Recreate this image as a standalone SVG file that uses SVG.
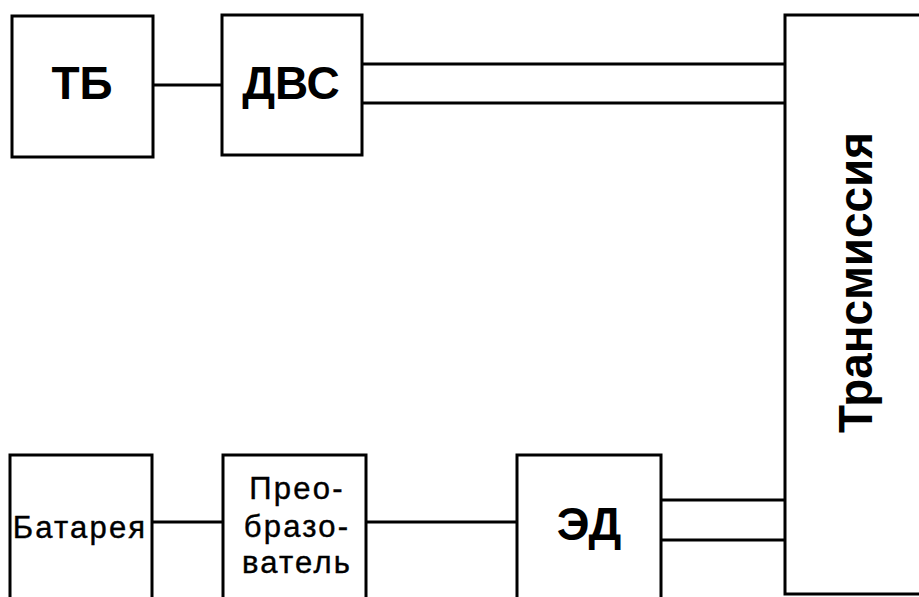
<svg xmlns="http://www.w3.org/2000/svg" width="919" height="597" viewBox="0 0 919 597">
  <style>
    .box { fill: #ffffff; stroke: #000000; stroke-width: 3; }
    .wire { stroke: #000000; stroke-width: 3; fill: none; }
    .big { font-family: "Liberation Sans", Arial, sans-serif; font-weight: bold; font-size: 46px; fill: #000000; text-anchor: middle; }
    .small { font-family: "Liberation Sans", Arial, sans-serif; font-size: 31px; letter-spacing: 2.2px; fill: #000000; stroke: #000000; stroke-width: 0.4; text-anchor: middle; }
  </style>
  <rect width="919" height="597" fill="#ffffff"/>

  <g id="connectors">
    <line class="wire" x1="153" y1="85" x2="222" y2="85"/>
    <line class="wire" x1="362" y1="64" x2="785" y2="64"/>
    <line class="wire" x1="362" y1="103" x2="785" y2="103"/>
    <line class="wire" x1="152" y1="522" x2="223" y2="522"/>
    <line class="wire" x1="366" y1="522" x2="517" y2="522"/>
    <line class="wire" x1="661" y1="500" x2="785" y2="500"/>
    <line class="wire" x1="661" y1="540" x2="785" y2="540"/>
  </g>

  <g id="node-tb">
    <rect class="box" x="12" y="16" width="141" height="141"/>
    <text class="big" x="82" y="99">ТБ</text>
  </g>

  <g id="node-dvs">
    <rect class="box" x="222" y="15" width="140" height="140"/>
    <text class="big" x="291" y="99">ДВС</text>
  </g>

  <g id="node-transmission">
    <rect class="box" x="785" y="15" width="200" height="579"/>
    <text class="big" style="font-size:49px" transform="translate(872,282.5) rotate(-90)" x="0" y="0" textLength="301" lengthAdjust="spacingAndGlyphs">Трансмиссия</text>
  </g>

  <g id="node-battery">
    <rect class="box" x="10" y="455" width="142" height="160"/>
    <text class="small" x="80" y="538">Батарея</text>
  </g>

  <g id="node-converter">
    <rect class="box" x="223" y="455" width="143" height="160"/>
    <text class="small" x="297" y="499">Прео-</text>
    <text class="small" x="297" y="537">бразо-</text>
    <text class="small" x="297" y="573">ватель</text>
  </g>

  <g id="node-motor">
    <rect class="box" x="517" y="455" width="144" height="160"/>
    <text class="big" x="589" y="540">ЭД</text>
  </g>
</svg>
